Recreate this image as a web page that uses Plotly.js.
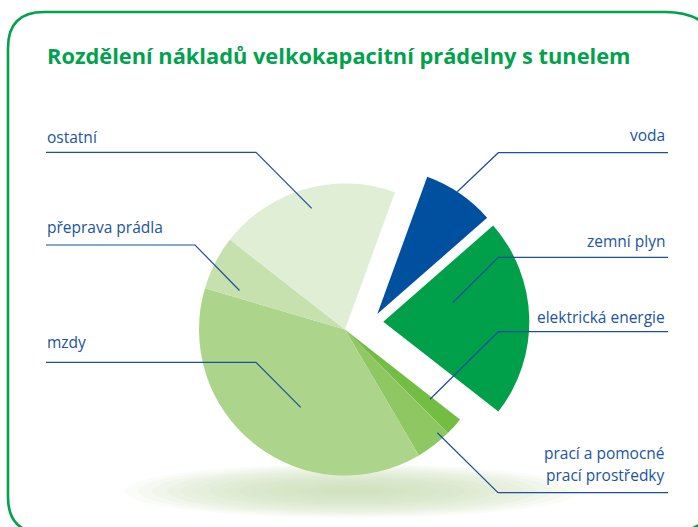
<!DOCTYPE html>
<html><head><meta charset="utf-8">
<script src="https://cdn.plot.ly/plotly-3.0.1.min.js"></script>
<style>html,body{margin:0;padding:0;background:#fff;overflow:hidden}</style>
</head><body><div id="chart" style="width:698px;height:527px"></div>
<script>
// ---- data ----
const categories = ['voda', 'zemní plyn', 'elektrická energie', 'prací a pomocné prací prostředky', 'mzdy', 'přeprava prádla', 'ostatní'];
const shares = [8, 22, 2, 4, 38, 6, 20];
const labelLines = [['voda'], ['zemní plyn'], ['elektrická energie'], ['prací a pomocné', 'prací prostředky'], ['mzdy'], ['přeprava prádla'], ['ostatní']];
const chartTitle = 'Rozdělení nákladů velkokapacitní prádelny s tunelem';

// ---- styles / layout ----
const sliceColors = ['#0050a0', '#009f4a', '#73bd43', '#8fc762', '#acd48a', '#c6e1ae', '#e0eed5'];
const W = 698, H = 527, R = 146;
const X = p => p / W, Y = p => 1 - p / H;
const TEXT_BLUE = '#1a54a2', LINE_BLUE = '#1d4f9c', GREEN = '#00a24d';
const FONT = 'Open Sans, Noto Sans, sans-serif';

// pie centres (pixels): main body, and the two detached slices
const centres = {main: [345, 329.5], 0: [377.3, 314], 1: [383.3, 321.7]};
const detached = [0, 1];

function domainAt(c) {
  return {x: [X(c[0] - R), X(c[0] + R)], y: [Y(c[1] + R), Y(c[1] - R)]};
}
function pieTrace(visibleIdx, centre) {
  const cols = sliceColors.map((c, i) => visibleIdx.includes(i) ? c : 'rgba(0,0,0,0)');
  return {
    type: 'pie', labels: categories, values: shares, sort: false,
    direction: 'clockwise', rotation: 20, textinfo: 'none', hoverinfo: 'label+percent',
    marker: {colors: cols, line: {width: 0}}, domain: domainAt(centre), showlegend: false
  };
}
const mainIdx = categories.map((_, i) => i).filter(i => !detached.includes(i));
const traces = [pieTrace(mainIdx, centres.main)].concat(detached.map(i => pieTrace([i], centres[i])));

// leader lines: label side, text baselines, path points (pixels)
const leaders = [
  {side: 'right', base: [140.7], pts: [[668, 152.7], [498.3, 152.7], [457.3, 191.7]]},
  {side: 'right', base: [246.7], pts: [[668, 257.3], [498.3, 257.3], [452.7, 302.7]]},
  {side: 'right', base: [322.7], pts: [[668, 331.7], [498.3, 331.7], [430, 399.3]]},
  {side: 'right', base: [458, 480], pts: [[668, 492.7], [498, 492.7], [437.3, 432.7]]},
  {side: 'left', base: [347], pts: [[46, 362.3], [256, 362.3], [300.7, 407.3]]},
  {side: 'left', base: [232.7], pts: [[46, 245], [195, 245], [239.5, 290.5]]},
  {side: 'left', base: [142.3], pts: [[46, 152.3], [256, 152.3], [311.7, 208.3]]}
];

const shapes = [];
// soft shadow below the pie
const SH = {cx: 352, cy: 491, rx: 228, ry: 27};
const NS = 16;
for (let k = 0; k < NS; k++) {
  const f = 1 - k / NS;
  shapes.push({type: 'circle', xref: 'paper', yref: 'paper', layer: 'below',
    x0: X(SH.cx - SH.rx * f), x1: X(SH.cx + SH.rx * f), y0: Y(SH.cy + SH.ry * f), y1: Y(SH.cy - SH.ry * f),
    fillcolor: '#c6dfac', opacity: 0.09, line: {width: 0}});
}
// rounded frame (right side runs past the visible area)
const fr = {l: 8, t: 12, r: 720, b: 533, tl: 36, tr: 55, br: 55, bl: 36};
const P = (x, y) => X(x) + ',' + Y(y);
const framePath = 'M' + P(fr.l, fr.t + fr.tl) +
  ' Q' + P(fr.l, fr.t) + ' ' + P(fr.l + fr.tl, fr.t) +
  ' L' + P(fr.r - fr.tr, fr.t) +
  ' Q' + P(fr.r, fr.t) + ' ' + P(fr.r, fr.t + fr.tr) +
  ' L' + P(fr.r, fr.b - fr.br) +
  ' Q' + P(fr.r, fr.b) + ' ' + P(fr.r - fr.br, fr.b) +
  ' L' + P(fr.l + fr.bl, fr.b) +
  ' Q' + P(fr.l, fr.b) + ' ' + P(fr.l, fr.b - fr.bl) + ' Z';
shapes.push({type: 'path', xref: 'paper', yref: 'paper', path: framePath, line: {color: GREEN, width: 2.6}, layer: 'above'});

const annotations = [{
  text: '<b>' + chartTitle + '</b>', xref: 'paper', yref: 'paper', x: X(45), y: Y(55),
  xanchor: 'left', yanchor: 'middle', showarrow: false, font: {family: FONT, size: 21.8, color: GREEN}
}];
leaders.forEach((ld, i) => {
  shapes.push({type: 'path', xref: 'paper', yref: 'paper', layer: 'above',
    path: 'M' + ld.pts.map(p => P(p[0], p[1])).join(' L'), line: {color: LINE_BLUE, width: 1.2}});
  labelLines[i].forEach((txt, j) => {
    annotations.push({text: txt, xref: 'paper', yref: 'paper', showarrow: false,
      x: X(ld.side === 'right' ? 667 : 45), y: Y(ld.base[j] - 5.5),
      xanchor: ld.side === 'right' ? 'right' : 'left', yanchor: 'middle',
      font: {family: FONT, size: 15.5, color: TEXT_BLUE}});
  });
});

Plotly.newPlot('chart', traces, {
  width: W, height: H, margin: {l: 0, r: 0, t: 0, b: 0},
  paper_bgcolor: '#ffffff', plot_bgcolor: '#ffffff',
  shapes: shapes, annotations: annotations, showlegend: false
}, {displayModeBar: false, staticPlot: true});
</script></body></html>
